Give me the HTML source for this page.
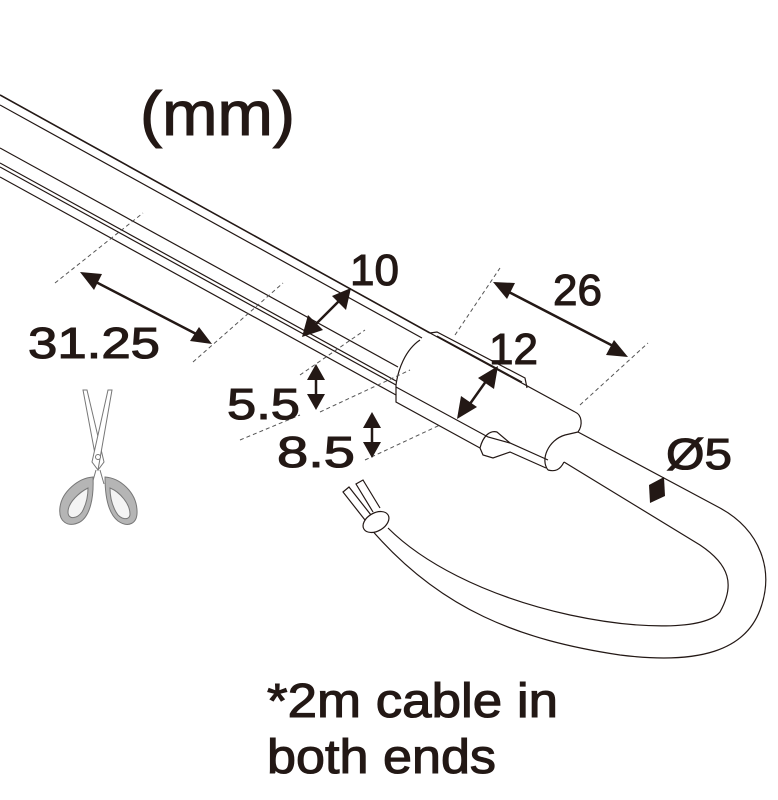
<!DOCTYPE html>
<html><head><meta charset="utf-8"><style>
html,body{margin:0;padding:0;background:#fff}
svg{display:block}
text{font-family:"Liberation Sans",sans-serif;fill:#231815;stroke:#231815;stroke-width:1.1}
</style></head><body>
<svg width="778" height="800" viewBox="0 0 778 800" xmlns="http://www.w3.org/2000/svg">
<g stroke="#231815" fill="none" stroke-width="1.2">
<line x1="0" y1="95" x2="430" y2="333" stroke-width="1.6"/>
<line x1="0" y1="105" x2="422" y2="338"/>
<line x1="0" y1="148" x2="398" y2="367"/>
<line x1="0" y1="163" x2="396" y2="381"/>
<line x1="0" y1="167" x2="396" y2="385"/>
<line x1="0" y1="177" x2="396" y2="395"/>
<path d="M430,333 L575,412 M420,340 C405,350 398,370 396,385 L396,402 L480,448"/>
<path d="M430,333 L437,332 L525,378 L527,388"/>
<path d="M437,336 L522,382"/>
<path d="M396,387 L488,437 L510,443 L548,460"/>
<path d="M480,448 C483,436 490,430 497,432 L510,443 M480,448 L483,455 L493,458 L510,452 L546,468"/>
<path d="M575,412 C582,415 583,425 578,432 M548,470 C540,460 548,440 565,435 L578,432 M548,470 C555,472 560,470 564,462"/>
<path d="M578,432 L720,508 C760,530 775,570 760,610 C745,650 700,665 620,655 C520,640 440,610 370,528"/>
<path d="M564,462 L700,545 C730,565 735,585 720,612 C705,630 640,630 570,615 C480,595 420,560 388,528"/>
<ellipse cx="376" cy="522" rx="14" ry="9" transform="rotate(-30 376 522)" fill="#fff"/>
<path d="M365,520 L343,492 L349,487 L371,515 M373,512 L356,484 L363,480 L380,508"/>
</g>
<g stroke="#555" stroke-width="1" stroke-dasharray="4,3" fill="none">
<line x1="55" y1="283" x2="143" y2="213"/>
<line x1="193" y1="362" x2="283" y2="283"/>
<line x1="300" y1="375" x2="365" y2="330"/>
<line x1="455" y1="335" x2="500" y2="268"/>
<line x1="580" y1="405" x2="648" y2="343"/>
<line x1="320" y1="412" x2="410" y2="370"/>
<line x1="365" y1="460" x2="440" y2="425"/>
<line x1="240" y1="440" x2="300" y2="415"/>
</g>
<g stroke="#231815" stroke-width="2.5" fill="#231815">
<line x1="92" y1="280" x2="202" y2="337"/>
<polygon points="80,272 102,274 94,290" stroke="none"/>
<polygon points="212,344 190,341 199,327" stroke="none"/>
<line x1="312" y1="328" x2="342" y2="298"/>
<polygon points="302,337 308,315 323,330" stroke="none"/>
<polygon points="351,288 346,310 332,296" stroke="none"/>
<line x1="505" y1="290" x2="617" y2="348"/>
<polygon points="493,282 515,283 507,299" stroke="none"/>
<polygon points="628,357 606,355 614,340" stroke="none"/>
<line x1="467" y1="408" x2="489" y2="377"/>
<polygon points="457,419 461,396 477,407" stroke="none"/>
<polygon points="498,366 494,389 478,378" stroke="none"/>
<line x1="316" y1="372" x2="316" y2="402"/>
<polygon points="316,364 307,380 325,380" stroke="none"/>
<polygon points="316,410 307,394 325,394" stroke="none"/>
<line x1="372" y1="420" x2="372" y2="450"/>
<polygon points="372,412 363,428 381,428" stroke="none"/>
<polygon points="372,458 363,442 381,442" stroke="none"/>
<polygon points="649,485 664,477 665,496 650,503" stroke="none"/>
</g>
<g stroke="#777" stroke-width="1" fill="#fff">
<path d="M83,390 L87,390 L104,462 L98,470 Z"/>
<path d="M112,390 L108,390 L92,462 L98,470 Z"/>
<circle cx="98" cy="457" r="2.5"/>
<path d="M96,470 L92,484 M100,470 L104,484"/>
<path d="M93,477 C78,478 62,492 60,507 C58,522 68,528 80,522 C90,516 94,498 93,477 Z" fill="#b5b5b5"/>
<path d="M88,488 C80,492 68,502 68,512 C68,520 77,519 82,512 C86,505 88,496 88,488 Z" fill="#f4f4f4"/>
<path d="M105,477 C120,478 136,492 137,510 C138,524 128,528 118,521 C109,514 105,498 105,477 Z" fill="#b5b5b5"/>
<path d="M110,488 C120,492 130,504 130,514 C130,521 120,520 116,512 C112,505 110,496 110,488 Z" fill="#f4f4f4"/>
</g>
<text x="140" y="135" font-size="62" textLength="155" lengthAdjust="spacingAndGlyphs">(mm)</text>
<text x="350" y="285" font-size="44">10</text>
<text x="553" y="305" font-size="44">26</text>
<text x="28" y="358" font-size="44" textLength="132" lengthAdjust="spacingAndGlyphs">31.25</text>
<text x="489" y="364" font-size="44">12</text>
<text x="227" y="419" font-size="44" textLength="73" lengthAdjust="spacingAndGlyphs">5.5</text>
<text x="277" y="467" font-size="44" textLength="78" lengthAdjust="spacingAndGlyphs">8.5</text>
<text x="666" y="469" font-size="44" textLength="66" lengthAdjust="spacingAndGlyphs">Ø5</text>
<text x="267" y="717" font-size="48" textLength="291" lengthAdjust="spacingAndGlyphs">*2m cable in</text>
<text x="267" y="773" font-size="48" textLength="229" lengthAdjust="spacingAndGlyphs">both ends</text>
</svg>
</body></html>
